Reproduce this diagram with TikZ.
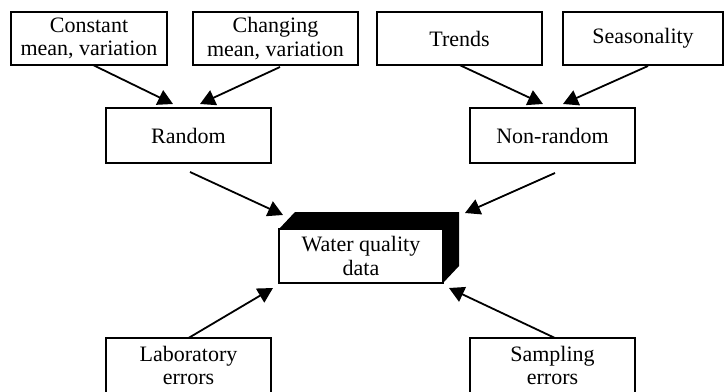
\documentclass[tikz,border=0pt]{standalone}
\usepackage{fontspec}
\setmainfont{Liberation Serif}
\usetikzlibrary{arrows.meta,calc}

\begin{document}
\begin{tikzpicture}[x=1pt,y=1pt,
    box/.style={rectangle,draw,line width=2.4pt,minimum width=165pt,minimum height=54pt,
        align=center,inner sep=0pt,outer sep=0pt,font=\fontsize{22}{23.5}\selectfont},
    arr/.style={line width=1.8pt,-{Triangle[length=15pt,width=16pt]}}]
    \useasboundingbox (0,0) rectangle (725,-391);
    \begin{scope}
    \clip (0,0) rectangle (725,-391);
    % sources of variation
    \node[box,minimum width=156pt,minimum height=53pt] (cmean) at (89,-38.5) {Constant\\mean, variation};
    \node[box,minimum height=53pt] (chmean) at (275.5,-38.5) {Changing\\mean, variation};
    \node[box,minimum height=53pt] (trend) at (459.5,-38.5) {Trends};
    \node[box,minimum width=160pt,minimum height=53pt] (season) at (643,-38.5) {Seasonality};
    \node[box,minimum height=55pt] (rnd) at (188.5,-135.5) {Random};
    \node[box,minimum height=55pt] (nonrnd) at (552.5,-135.5) {Non-random};
    % the data block, drawn as a solid box
    \node[box,minimum width=164pt] (wqd) at (361,-256) {Water quality\\data};
    \fill (wqd.north west) -- ++(16,17) -- ($(wqd.north east)+(16,17)$) -- ($(wqd.south east)+(16,17)$)
        -- (wqd.south east) -- (wqd.north east) -- cycle;
    \node[box,minimum height=55pt] (laberr) at (188.5,-365.5) {Laboratory\\errors};
    \node[box,minimum height=55pt] (samperr) at (552.5,-365.5) {Sampling\\errors};

    \draw[arr] ([xshift=4pt]cmean.south) -- ([shift={(-15.5,4)}]rnd.north);
    \draw[arr] ([shift={(4.5,-2)}]chmean.south) -- ([shift={(11.5,4)}]rnd.north);
    \draw[arr] (trend.south) -- ([shift={(-9.5,4)}]nonrnd.north);
    \draw[arr] ([shift={(5,-1)}]season.south) -- ([shift={(10.5,4)}]nonrnd.north);
    \draw[arr] ([shift={(1.5,-9)}]rnd.south) -- ([shift={(4,14)}]wqd.north west);
    \draw[arr] ([shift={(2.5,-10)}]nonrnd.south) -- ([shift={(22,16)}]wqd.north east);
    \draw[arr] (laberr.north) -- ([shift={(-6,-5)}]wqd.south west);
    \draw[arr] ([xshift=2.5pt]samperr.north) -- ([shift={(6,-5)}]wqd.south east);
    \end{scope}
\end{tikzpicture}
\end{document}
